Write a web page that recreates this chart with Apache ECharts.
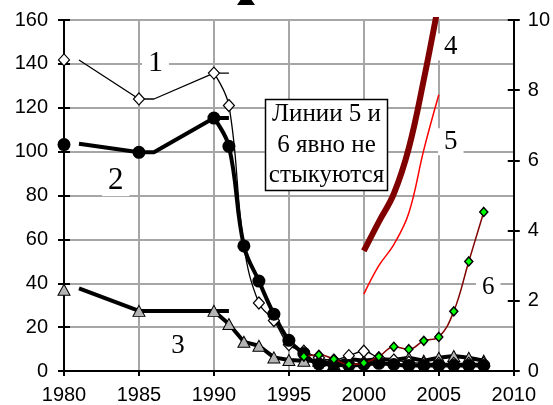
<!DOCTYPE html>
<html><head><meta charset="utf-8">
<script src="https://cdn.jsdelivr.net/npm/echarts@6/dist/echarts.min.js"></script>
<style>html,body{margin:0;padding:0;background:#fff}#c{width:553px;height:405px}</style>
</head><body><div id="c"></div>
<script>
// marker years for series 1-3
const mkYears = [1980,1985,1990,1991,1992,1993,1994,1995,1996,1997,1998,1999,2000,2001,2002,2003,2004,2005,2006,2007,2008];
const s1Vals = [141.8,124,135.8,121,57,31,23,12,9,6,5,7,9,6,5,4,3.5,3.5,3.5,3.5,3.5];
const s2Vals = [103.2,99.7,115.3,102.4,57,41,25.9,14,8,3.2,3,2.5,3,3.5,3,2.5,2.5,2.5,2.5,2.5,2.5];
const s3Vals = [37,27.4,27.4,21.4,13.3,11.5,6.2,5,4.7,4.7,3.2,5.5,4.7,5.5,5,6,4.7,6,6.8,6,4.7];
// old trend segments
const t1Years = [1981,1985,1986,1990,1991];
const t1Vals = [141.8,124,124,135.8,135.8];
const t2Years = [1981,1985,1986,1990,1991];
const t2Vals = [103.6,99.7,99.7,115.3,115.3];
const t3Years = [1981,1985,1991];
const t3Vals = [37.7,27.4,27.4];
// right-axis series
const s45Years = [2000,2001,2002,2003,2004,2005];
const s4Vals = [3.42,4.25,5.05,6.35,8.3,10.5];
const s5Vals = [2.19,3.0,3.6,4.5,6.3,7.87];
const s6Years = [1996,1997,1998,1999,2000,2001,2002,2003,2004,2005,2006,2007,2008];
const s6Vals = [0.41,0.46,0.34,0.18,0.23,0.41,0.69,0.62,0.86,0.97,1.70,3.12,4.53];
// series number labels
const lblTexts = ['1','2','3','4','5','6'];
const lblX = [1986.1,1983.45,1987.6,2005.8,2005.8,2008.3];
const lblY = [140.5,86.8,11.4,147.7,104.5,38.2];
const lblSizes = [30,31,27,27,27,25];
// axis ticks
const xTicks = [1980,2010,5];
const yLeftTicks = [0,160,20];
const yRightTicks = [0,10,2];
const noteText = 'Линии 5 и\n6 явно не\nстыкуются';

const zip = (xs, ys) => xs.map((x,i)=>[x, ys[i]]);
const fromIdx = (xs, ys, k) => zip(xs.slice(k), ys.slice(k));

const chart = echarts.init(document.getElementById('c'));
const sans = 'Liberation Sans';
const serif = 'Liberation Serif';
const axisCommon = {
  axisLine:{show:true,lineStyle:{color:'#000',width:2}},
  axisTick:{show:true,length:6,lineStyle:{color:'#000',width:2}},
  axisLabel:{fontSize:20,fontFamily:sans,color:'#000'}
};
const option = {
  animation:false,
  backgroundColor:'#fff',
  grid:{left:64,right:39,top:20,bottom:33},
  xAxis:[{type:'value',min:xTicks[0],max:xTicks[1],interval:xTicks[2],
    axisLine:axisCommon.axisLine,
    axisTick:{show:true,length:5,lineStyle:{color:'#000',width:2}},
    axisLabel:Object.assign({},axisCommon.axisLabel,{margin:14,formatter:v=>String(v)}),
    splitLine:{show:true,lineStyle:{color:'#a6a6a6',width:2}}}],
  yAxis:[
    {type:'value',position:'left',min:yLeftTicks[0],max:yLeftTicks[1],interval:yLeftTicks[2],
      axisLine:axisCommon.axisLine,axisTick:axisCommon.axisTick,
      axisLabel:Object.assign({},axisCommon.axisLabel,{margin:16}),
      splitLine:{show:true,lineStyle:{color:'#a6a6a6',width:2}}},
    {type:'value',position:'right',min:yRightTicks[0],max:yRightTicks[1],interval:yRightTicks[2],
      axisLine:axisCommon.axisLine,axisTick:axisCommon.axisTick,
      axisLabel:Object.assign({},axisCommon.axisLabel,{margin:14}),
      splitLine:{show:false}},
    {type:'value',position:'left',min:yLeftTicks[0],max:yLeftTicks[1],interval:yLeftTicks[2],
      axisLine:{show:false},axisTick:{show:true,inside:true,length:6,lineStyle:{color:'#000',width:2}},
      axisLabel:{show:false},splitLine:{show:false}},
    {type:'value',position:'right',min:yRightTicks[0],max:yRightTicks[1],interval:yRightTicks[2],
      axisLine:{show:false},axisTick:{show:true,inside:true,length:6,lineStyle:{color:'#000',width:2}},
      axisLabel:{show:false},splitLine:{show:false}}
  ],
  series:[
    // old trend segments
    {type:'line',data:zip(t1Years,t1Vals),symbol:'none',lineStyle:{color:'#000',width:1.3},z:2},
    {type:'line',data:zip(t2Years,t2Vals),symbol:'none',lineStyle:{color:'#000',width:4},z:2},
    {type:'line',data:zip(t3Years,t3Vals),symbol:'none',lineStyle:{color:'#000',width:4},z:2},
    // lines from 1990
    {type:'line',data:fromIdx(mkYears,s3Vals,2),symbol:'none',lineStyle:{color:'#000',width:4},z:2},
    {type:'line',data:fromIdx(mkYears,s2Vals,2),symbol:'none',smooth:0.4,lineStyle:{color:'#000',width:4},z:2},
    {type:'line',data:fromIdx(mkYears,s1Vals,2),symbol:'none',smooth:0.4,lineStyle:{color:'#000',width:1.3},z:2},
    // right-axis lines
    {type:'line',yAxisIndex:1,data:zip(s45Years,s4Vals),symbol:'none',smooth:0.4,lineStyle:{color:'#800000',width:6},z:2},
    {type:'line',yAxisIndex:1,data:zip(s45Years,s5Vals),symbol:'none',smooth:0.4,lineStyle:{color:'#ff0000',width:1.5},z:2},
    {type:'line',yAxisIndex:1,data:zip(s6Years,s6Vals),smooth:0.4,symbol:'diamond',symbolSize:[8,9],showSymbol:true,
      itemStyle:{color:'#00ff00',borderColor:'#000',borderWidth:1.5,opacity:1},lineStyle:{color:'#800000',width:1.5},z:4},
    // markers
    {type:'scatter',data:zip(mkYears,s3Vals),symbol:'triangle',symbolSize:[12,11],
      itemStyle:{color:'#b4b4b4',borderColor:'#000',borderWidth:1,opacity:1},z:3},
    {type:'scatter',data:zip(mkYears,s1Vals),symbol:'diamond',symbolSize:[11,12],
      itemStyle:{color:'#fff',borderColor:'#000',borderWidth:1.2,opacity:1},z:3},
    {type:'scatter',data:zip(mkYears,s2Vals),symbol:'circle',symbolSize:13,
      itemStyle:{color:'#000',opacity:1},z:3},
    // number labels
    {type:'scatter',symbolSize:1,itemStyle:{color:'rgba(0,0,0,0)',opacity:1},z:6,silent:true,
      data:lblTexts.map((t,i)=>({value:[lblX[i],lblY[i]],
        label:{show:true,position:'inside',formatter:t,fontFamily:serif,fontSize:lblSizes[i],color:'#000',
          opacity:1,textBorderWidth:0,backgroundColor:'#fff',padding:[0,6]}}))}
  ],
  graphic:[
    {type:'rect',shape:{x:265.5,y:99.5,width:122,height:91},style:{fill:'#fff',stroke:'#000',lineWidth:1.5},z:10},
    {type:'text',x:326.5,y:145,z:11,style:{text:noteText,font:'25px "Liberation Serif"',lineHeight:30.5,
      align:'center',verticalAlign:'middle',fill:'#000'}},
    {type:'polygon',shape:{points:[[237,5],[255,5],[246,-8]]},style:{fill:'#000'},z:10}
  ]
};
chart.setOption(option);
</script></body></html>
